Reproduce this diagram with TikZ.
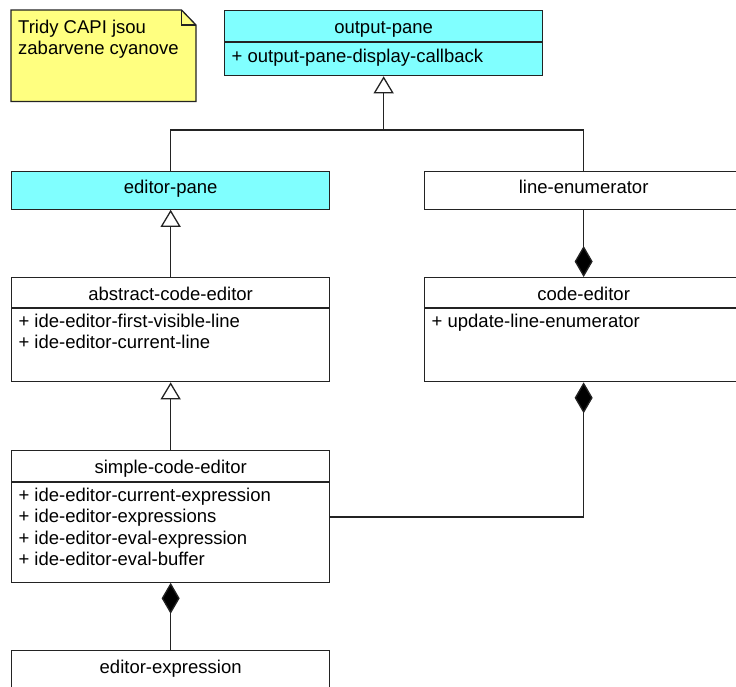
\documentclass[tikz,border=0pt]{standalone}
\usepackage{fontspec}
\setmainfont{Liberation Sans}
\usetikzlibrary{arrows.meta}
\definecolor{capi}{RGB}{128,255,255}
\definecolor{notey}{RGB}{255,255,128}
\definecolor{edge}{RGB}{35,35,35}
\begin{document}
\begin{tikzpicture}[x=1pt,y=-1pt,
  box/.style={draw=edge, line width=1.3pt, rectangle, minimum width=318pt, inner sep=0pt, anchor=north west, fill=white},
  capibox/.style={box, fill=capi},
  divl/.style={draw=edge, line width=1.3pt},
  ttl/.style={font=\fontsize{18.5}{21.2}\selectfont, anchor=base, inner sep=0pt},
  attr/.style={font=\fontsize{18.5}{21.2}\selectfont, anchor=base west, inner sep=0pt},
  conn/.style={draw=edge, line width=1.3pt},
  gen/.style={conn, -{Triangle[open, length=17pt, width=20pt, fill=white]}},
  comp/.style={conn, -{Diamond[length=31pt, width=18pt, fill=black]}}
]
\useasboundingbox (0,0) rectangle (736,686);
\clip (0,0) rectangle (736,686);

% note
\draw[draw=edge, line width=1.3pt, fill=notey] (11,10) -- (181.5,10) -- (196,25) -- (196,101.5) -- (11,101.5) -- cycle;
\draw[draw=edge, line width=1.1pt] (181.5,10) -- (181.5,25) -- (196,25);
\node[attr] (notetxt1) at (18,33.3) {Tridy CAPI jsou};
\node[attr] (notetxt2) at (18,54.3) {zabarvene cyanove};

% boxes
\node[capibox, minimum height=65pt] (outpane) at (224,10) {};
\draw[divl] (outpane.west |- 0,42) -- (outpane.east |- 0,42);
\node[ttl] (outpanet) at (outpane.north |- 0,33) {output-pane};
\node[attr] (outpanea) at (231.5,62.7) {+ output-pane-display-callback};

\node[capibox, minimum height=38pt] (edpane) at (11,170.5) {};
\node[ttl] (edpanet) at (edpane.north |- 0,193.3) {editor-pane};

\node[box, minimum height=38pt] (lineenum) at (424,170.5) {};
\node[ttl] (lineenumt) at (lineenum.north |- 0,193.3) {line-enumerator};

\node[box, minimum height=104pt] (abs) at (11,277) {};
\draw[divl] (abs.west |- 0,308) -- (abs.east |- 0,308);
\node[ttl] (abst) at (abs.north |- 0,300) {abstract-code-editor};
\node[attr] (absa1) at (18.3,327.7) {+ ide-editor-first-visible-line};
\node[attr] (absa2) at (18.3,348.9) {+ ide-editor-current-line};

\node[box, minimum height=104pt] (ce) at (424,277) {};
\draw[divl] (ce.west |- 0,308) -- (ce.east |- 0,308);
\node[ttl] (cet) at (ce.north |- 0,300) {code-editor};
\node[attr] (cea1) at (431.5,327.7) {+ update-line-enumerator};

\node[box, minimum height=131.5pt] (sce) at (11,450) {};
\draw[divl] (sce.west |- 0,482) -- (sce.east |- 0,482);
\node[ttl] (scet) at (sce.north |- 0,473.3) {simple-code-editor};
\node[attr] (scea1) at (18.3,501.7) {+ ide-editor-current-expression};
\node[attr] (scea2) at (18.3,522.9) {+ ide-editor-expressions};
\node[attr] (scea3) at (18.3,544.1) {+ ide-editor-eval-expression};
\node[attr] (scea4) at (18.3,565.3) {+ ide-editor-eval-buffer};

\node[box, minimum height=60pt] (ee) at (11,650) {};
\node[ttl] (eet) at (ee.north |- 0,673.3) {editor-expression};

% connectors
\coordinate (jt) at (outpane.south |- 0,130);
\draw[conn] (edpane.north) |- (lineenum.north |- jt) -- (lineenum.north);
\draw[gen] (jt) -- (outpane.south);
\draw[gen] (abs.north) -- (edpane.south);
\draw[gen] (sce.north) -- (abs.south);
\draw[comp] (lineenum.south) -- (ce.north);
\coordinate (sceport) at (sce.east |- 0,517);
\draw[comp] (sceport) -| (ce.south);
\draw[comp] (ee.north) -- (sce.south);
\end{tikzpicture}
\end{document}
